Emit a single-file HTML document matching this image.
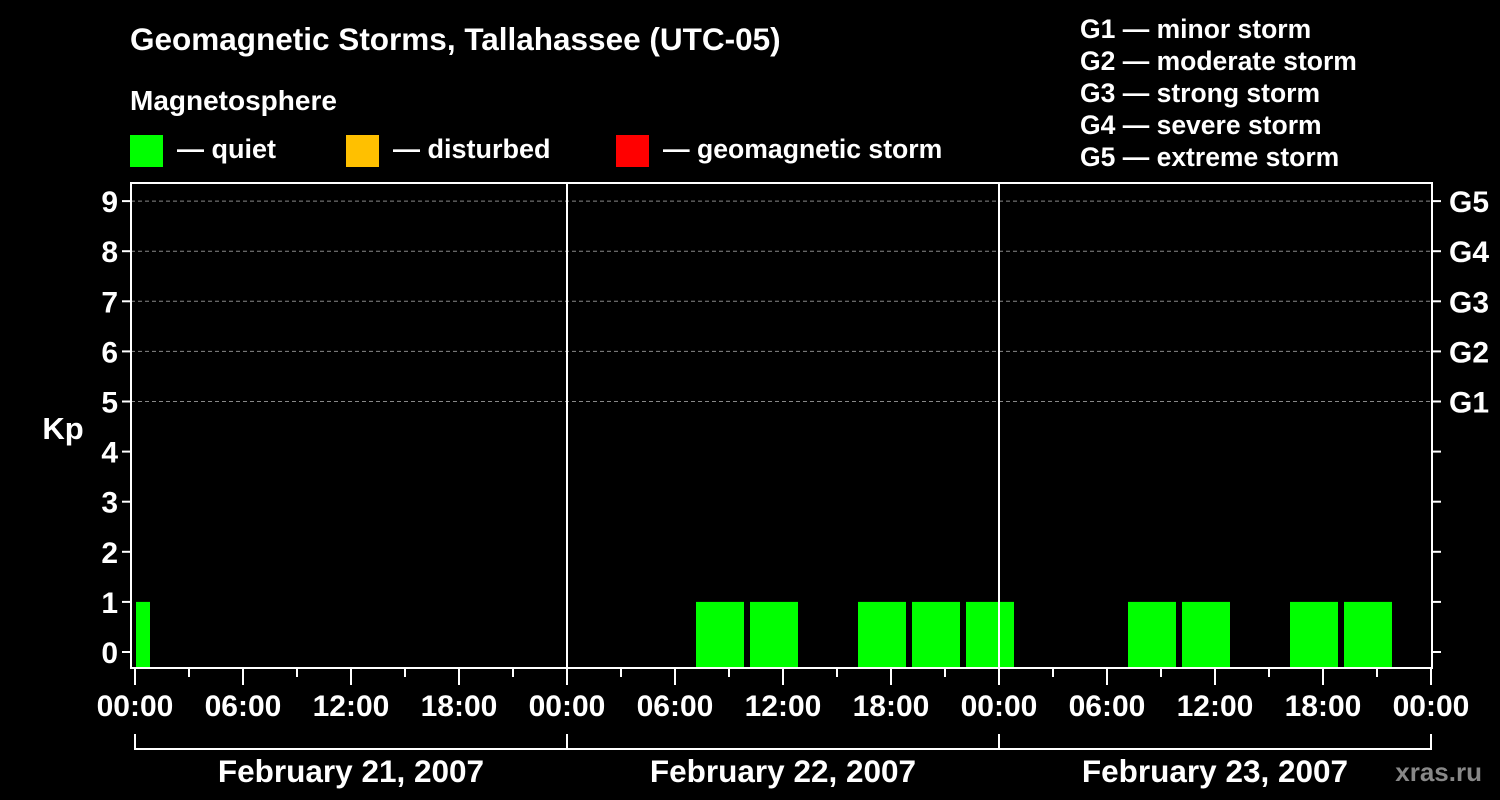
<!DOCTYPE html>
<html><head><meta charset="utf-8"><style>
html,body{margin:0;padding:0;background:#000;}
svg{display:block;font-family:"Liberation Sans",sans-serif;font-weight:bold;}
</style></head><body>
<svg id="chart" width="1500" height="800" viewBox="0 0 1500 800">
<rect width="1500" height="800" fill="#000"/>
<text x="130" y="50" fill="#fff" font-size="31.5">Geomagnetic Storms, Tallahassee (UTC-05)</text>
<text x="130" y="110" fill="#fff" font-size="28">Magnetosphere</text>
<g><rect x="130" y="135" width="33" height="32" fill="#00ff00"/><text x="177" y="158" fill="#fff" font-size="27">— quiet</text></g>
<g><rect x="346" y="135" width="33" height="32" fill="#ffc000"/><text x="393" y="158" fill="#fff" font-size="27">— disturbed</text></g>
<g><rect x="616" y="135" width="33" height="32" fill="#ff0000"/><text x="663" y="158" fill="#fff" font-size="26.6">— geomagnetic storm</text></g>
<g fill="#fff" font-size="26.5">
<text x="1080" y="38">G1 — minor storm</text>
<text x="1080" y="70">G2 — moderate storm</text>
<text x="1080" y="102">G3 — strong storm</text>
<text x="1080" y="134">G4 — severe storm</text>
<text x="1080" y="166">G5 — extreme storm</text>
</g>
<text x="63" y="439" fill="#fff" font-size="31" text-anchor="middle">Kp</text>
<text x="1482" y="781" fill="#888" font-size="26" text-anchor="end">xras.ru</text>
<g id="grid"></g>
<g id="bars"></g>
<g id="axes"></g>
</svg>
<script>
const days = ["February 21, 2007","February 22, 2007","February 23, 2007"];
const xTickLabels = ["00:00","06:00","12:00","18:00"];
const gLabels = ["G1","G2","G3","G4","G5"];
const blockStartHour = -2;
const kpValues = [1,0,0,0,0,0,0,0, 0,0,0,1,1,0,1,1, 1,0,0,1,1,0,1,1, 0];
const NS="http://www.w3.org/2000/svg";
const X0=135, PXH=18, Y0=652, PXK=50.1, TOP=183, BOT=668, LEFT=131, RIGHT=1432;
const xs=h=>X0+h*PXH, ys=k=>Y0-k*PXK;
function mk(tag,attrs,parent,txt){const e=document.createElementNS(NS,tag);for(const k in attrs)e.setAttribute(k,attrs[k]);if(txt!==undefined)e.textContent=txt;parent.appendChild(e);return e;}
const grid=document.getElementById('grid'),bars=document.getElementById('bars'),axes=document.getElementById('axes');
for(let k=5;k<=9;k++){const l=mk('line',{x1:LEFT,x2:RIGHT,y1:ys(k),y2:ys(k),stroke:'#888','stroke-width':1,'stroke-dasharray':'4,3'},grid);

}
kpValues.forEach((v,i)=>{if(v<=0)return;
const s=blockStartHour+3*i;let x1=xs(s)+3,x2=xs(s+3)-3;x1=Math.max(x1,LEFT+5);x2=Math.min(x2,RIGHT-1);if(x2<=x1)return;
const c=v>=5?'#ff0000':(v>=4?'#ffc000':'#00ff00');
const r=mk('rect',{x:x1,y:ys(v),width:x2-x1,height:BOT-ys(v),fill:c},bars);

});
mk('rect',{x:LEFT,y:TOP,width:RIGHT-LEFT,height:BOT-TOP,fill:'none',stroke:'#fff','stroke-width':2},axes);
for(let d=1;d<days.length;d++){mk('line',{x1:xs(24*d),x2:xs(24*d),y1:TOP,y2:BOT,stroke:'#fff','stroke-width':2},axes);}
for(let k=0;k<=9;k++){
mk('line',{x1:LEFT-9,x2:LEFT,y1:ys(k),y2:ys(k),stroke:'#fff','stroke-width':2},axes);
mk('line',{x1:RIGHT,x2:RIGHT+9,y1:ys(k),y2:ys(k),stroke:'#fff','stroke-width':2},axes);
const t=mk('text',{x:118,y:ys(k)+11,fill:'#fff','font-size':30,'text-anchor':'end'},axes,String(k));

}
gLabels.forEach((g,i)=>{const t=mk('text',{x:1449,y:ys(5+i)+11,fill:'#fff','font-size':30},axes,g);

});
for(let h=0;h<=24*days.length;h+=3){const major=h%6===0;
mk('line',{x1:xs(h),x2:xs(h),y1:BOT,y2:BOT+(major?17:9),stroke:'#fff','stroke-width':2},axes);
if(major){const t=mk('text',{x:xs(h),y:716,fill:'#fff','font-size':30,'text-anchor':'middle'},axes,xTickLabels[(h/6)%4]);

}}
days.forEach((d,i)=>{const a=xs(24*i),b=xs(24*(i+1));
mk('line',{x1:a,x2:b,y1:749,y2:749,stroke:'#fff','stroke-width':2},axes);
mk('line',{x1:a,x2:a,y1:734,y2:750,stroke:'#fff','stroke-width':2},axes);
mk('line',{x1:b,x2:b,y1:734,y2:750,stroke:'#fff','stroke-width':2},axes);
const t=mk('text',{x:(a+b)/2,y:782,fill:'#fff','font-size':31.5,'text-anchor':'middle'},axes,d);

});
</script>
</body></html>
